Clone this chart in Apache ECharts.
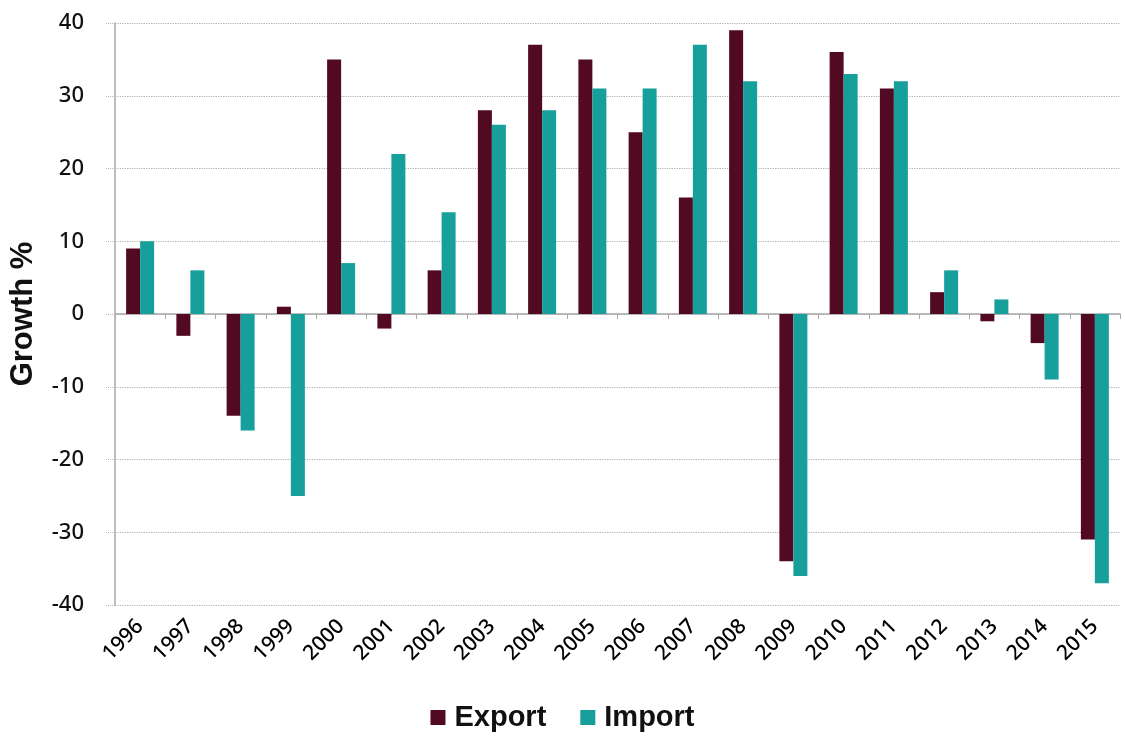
<!DOCTYPE html>
<html>
<head>
<meta charset="utf-8">
<script src="https://cdn.jsdelivr.net/npm/echarts@6/dist/echarts.min.js"></script>
<style>
html,body{margin:0;padding:0;background:#fff;}
#chart{width:1125px;height:740px;}
</style>
</head>
<body>
<div id="chart"></div>
<script>
const years = ['1996','1997','1998','1999','2000','2001','2002','2003','2004','2005','2006','2007','2008','2009','2010','2011','2012','2013','2014','2015'];
const exportGrowth = [9,-3,-14,1,35,-2,6,28,37,35,25,16,39,-34,36,31,3,-1,-4,-31];
const importGrowth = [10,6,-16,-25,7,22,14,26,28,31,31,37,32,-36,33,32,6,2,-9,-37];
const yMin = -40, yMax = 40, yStep = 10;
const seriesNames = ['Export','Import'];
const colors = ['#520a22','#17a09b'];

const chart = echarts.init(document.getElementById('chart'), null, {renderer:'canvas'});
chart.setOption({
  animation:false,
  backgroundColor:'#fff',
  color: colors,
  grid:{left:113, right:5, top:23, bottom:135, containLabel:false},
  legend:{
    data: seriesNames,
    left:'center',
    top:698,
    icon:'rect',
    itemWidth:15,
    itemHeight:15,
    itemGap:34,
    textStyle:{fontFamily:'Liberation Sans, Arial, sans-serif', fontWeight:'bold', fontSize:29, color:'#111', padding:[0,0,0,4]}
  },
  xAxis:[
    {
      type:'category',
      data: years,
      position:'bottom',
      axisLine:{show:false, onZero:false},
      axisTick:{show:false},
      axisLabel:{rotate:45, margin:18, fontFamily:'Noto Sans, sans-serif', fontSize:21, fontWeight:500, color:'#000'},
      splitLine:{show:false}
    },
    {
      type:'category',
      data: years,
      position:'top',
      axisLine:{show:true, onZero:true, lineStyle:{color:'#a8a8a8', width:1.5}},
      axisTick:{show:true, inside:true, length:5, lineStyle:{color:'#a8a8a8'}},
      axisLabel:{show:false},
      splitLine:{show:false}
    }
  ],
  yAxis:{
    type:'value',
    min:yMin, max:yMax, interval:yStep,
    name:'Growth %',
    nameLocation:'middle',
    nameGap:76,
    nameTextStyle:{fontFamily:'Liberation Sans, Arial, sans-serif', fontWeight:'bold', fontSize:31, color:'#111'},
    axisLine:{show:true, lineStyle:{color:'#a8a8a8', width:1.5}},
    axisTick:{show:true, length:9, lineStyle:{color:'#b8b8b8', type:'dotted'}},
    axisLabel:{margin:31, fontFamily:'Noto Sans, sans-serif', fontSize:22, fontWeight:500, color:'#111'},
    splitLine:{show:true, lineStyle:{color:'#b0b0b0', type:'dotted', width:1.2}}
  },
  series:[
    {name:seriesNames[0], type:'bar', xAxisIndex:0, data:exportGrowth, barWidth:14, barGap:'0%', itemStyle:{color:colors[0]}},
    {name:seriesNames[1], type:'bar', xAxisIndex:0, data:importGrowth, barWidth:14, barGap:'0%', itemStyle:{color:colors[1]}}
  ]
});
</script>
</body>
</html>
